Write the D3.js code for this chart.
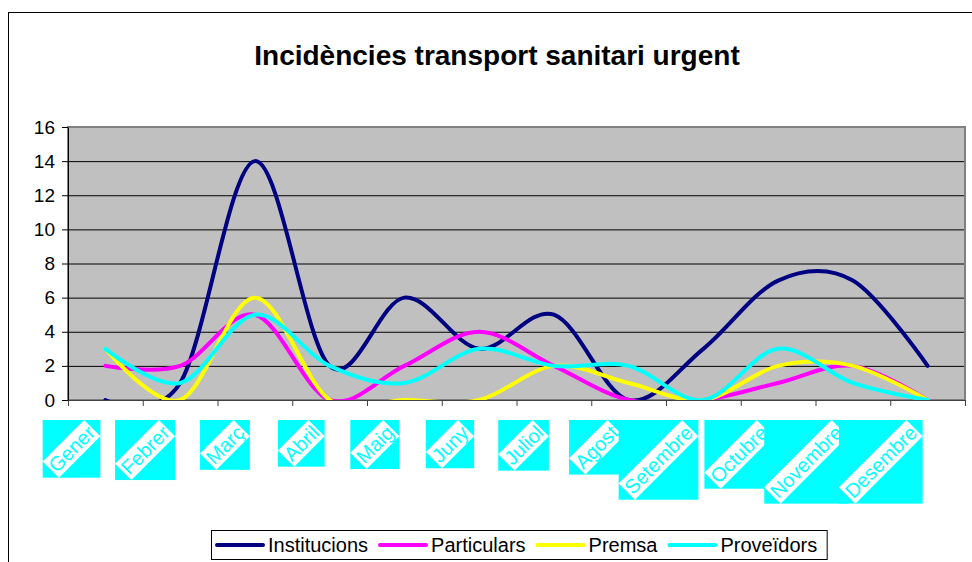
<!DOCTYPE html>
<html>
<head>
<meta charset="utf-8">
<script src="https://cdn.jsdelivr.net/npm/d3@7"></script>
<style>
  body { margin: 0; background: white; }
  svg { display: block; font-family: "Liberation Sans", Arial, sans-serif; }
</style>
</head>
<body>
<div id="viz"></div>
<script>
const months = ["Gener", "Febrer", "Març", "Abril", "Maig", "Juny", "Juliol", "Agost", "Setembre", "Octubre", "Novembre", "Desembre"];
const institucions = [0, 1, 14, 2, 6, 3, 5, 0, 3, 7, 7, 2];
const particulars = [2, 2, 5, 0, 2, 4, 2, 0, 0, 1, 2, 0];
const premsa = [3, 0, 6, 0, 0, 0, 2, 1, 0, 2, 2, 0];
const proveidors = [3, 1, 5, 2, 1, 3, 2, 2, 0, 3, 1, 0];
const seriesNames = ["Institucions", "Particulars", "Premsa", "Proveïdors"];
const seriesColors = ["#000080", "#ff00ff", "#ffff00", "#00ffff"];
const yTicks = [0, 2, 4, 6, 8, 10, 12, 14, 16];

const width = 972, height = 562;
const plot = { left: 68, right: 965, top: 127, bottom: 400 };

const svg = d3.select("#viz").append("svg")
    .attr("width", width)
    .attr("height", height);

// outer chart border (runs off the right and bottom edges)
svg.append("rect")
    .attr("x", 8.5).attr("y", 12.5)
    .attr("width", 1000).attr("height", 600)
    .attr("fill", "white").attr("stroke", "black");

svg.append("text")
    .attr("x", 497).attr("y", 65)
    .attr("text-anchor", "middle")
    .attr("font-size", 28).attr("font-weight", "bold")
    .text("Incidències transport sanitari urgent");

const x = d3.scaleBand().domain(months).range([plot.left, plot.right]);
const xEdge = d3.scaleLinear().domain([0, months.length]).range([plot.left, plot.right]);
const y = d3.scaleLinear().domain([0, 16]).range([plot.bottom, plot.top]);

// plot area
svg.append("rect")
    .attr("x", plot.left).attr("y", plot.top)
    .attr("width", plot.right - plot.left).attr("height", plot.bottom - plot.top)
    .attr("fill", "#c0c0c0");

svg.append("g").selectAll("line")
    .data(yTicks.filter(d => d > 0 && d < 16))
    .enter().append("line")
    .attr("x1", plot.left).attr("x2", plot.right)
    .attr("y1", d => y(d) + 0.5).attr("y2", d => y(d) + 0.5)
    .attr("stroke", "black");

svg.append("rect")
    .attr("x", plot.left).attr("y", plot.top)
    .attr("width", plot.right - plot.left).attr("height", plot.bottom - plot.top)
    .attr("fill", "none").attr("stroke", "#808080").attr("stroke-width", 2);

// axes
const yAxis = svg.append("g")
    .attr("transform", `translate(${plot.left},0)`)
    .call(d3.axisLeft(y).tickValues(yTicks).tickSize(6).tickPadding(7).tickSizeOuter(0));
yAxis.selectAll("text").attr("font-size", 19).attr("fill", "black").attr("font-family", "Liberation Sans, Arial");
yAxis.selectAll("line, path").attr("stroke", "black");

const xAxis = svg.append("g")
    .attr("transform", `translate(0,${plot.bottom})`)
    .call(d3.axisBottom(xEdge).tickValues(d3.range(months.length + 1)).tickFormat("").tickSize(6).tickSizeOuter(0));
xAxis.selectAll("line, path").attr("stroke", "#404040");

// series
svg.append("clipPath").attr("id", "clip")
    .append("rect")
    .attr("x", plot.left).attr("y", plot.top)
    .attr("width", plot.right - plot.left).attr("height", plot.bottom - plot.top);

const line = d3.line()
    .x((d, i) => x(months[i]) + x.bandwidth() / 2)
    .y(d => y(d))
    .curve(d3.curveCardinal.tension(0));

const allSeries = [institucions, particulars, premsa, proveidors];
svg.append("g").attr("clip-path", "url(#clip)")
    .selectAll("path")
    .data(allSeries)
    .enter().append("path")
    .attr("d", d => line(d))
    .attr("fill", "none")
    .attr("stroke", (d, i) => seriesColors[i])
    .attr("stroke-width", 4)
    .attr("stroke-linecap", "round")
    .attr("stroke-linejoin", "round");

// rotated category labels on cyan boxes
const labelH = 23;
const labels = svg.append("g");
months.forEach(m => {
    const g = labels.append("g");
    const box = g.append("rect").attr("fill", "#00ffff");
    const band = g.append("rect").attr("fill", "white");
    const t = g.append("text")
        .attr("font-size", 20)
        .attr("fill", "#00ffff")
        .attr("text-anchor", "middle")
        .attr("dy", "0.35em")
        .text(m);
    const L = t.node().getComputedTextLength() + 3;
    const W = (L + labelH) * Math.SQRT1_2;
    const cx = x(m) + x.bandwidth() / 2 - 5 - W / 2;
    const cy = 420 + W / 2;
    box.attr("x", cx - W / 2).attr("y", cy - W / 2).attr("width", W).attr("height", W);
    band.attr("x", -L / 2).attr("y", -labelH / 2).attr("width", L).attr("height", labelH)
        .attr("transform", `translate(${cx},${cy}) rotate(-45)`);
    t.attr("transform", `translate(${cx},${cy}) rotate(-45)`);
});

// legend
const legend = svg.append("g");
const legendBox = legend.append("rect")
    .attr("y", 530.5).attr("height", 29)
    .attr("fill", "white").attr("stroke", "black");
let lx = 217;
let lastEnd = lx;
seriesNames.forEach((name, i) => {
    legend.append("line")
        .attr("x1", lx).attr("x2", lx + 46)
        .attr("y1", 545).attr("y2", 545)
        .attr("stroke", seriesColors[i]).attr("stroke-width", 4)
        .attr("stroke-linecap", "round");
    const t = legend.append("text")
        .attr("x", lx + 51).attr("y", 552)
        .attr("font-size", 20)
        .text(name);
    lastEnd = lx + 51 + t.node().getComputedTextLength();
    lx = lastEnd + 12;
});
legendBox.attr("x", 211.5).attr("width", lastEnd + 10 - 211.5);
</script>
</body>
</html>
